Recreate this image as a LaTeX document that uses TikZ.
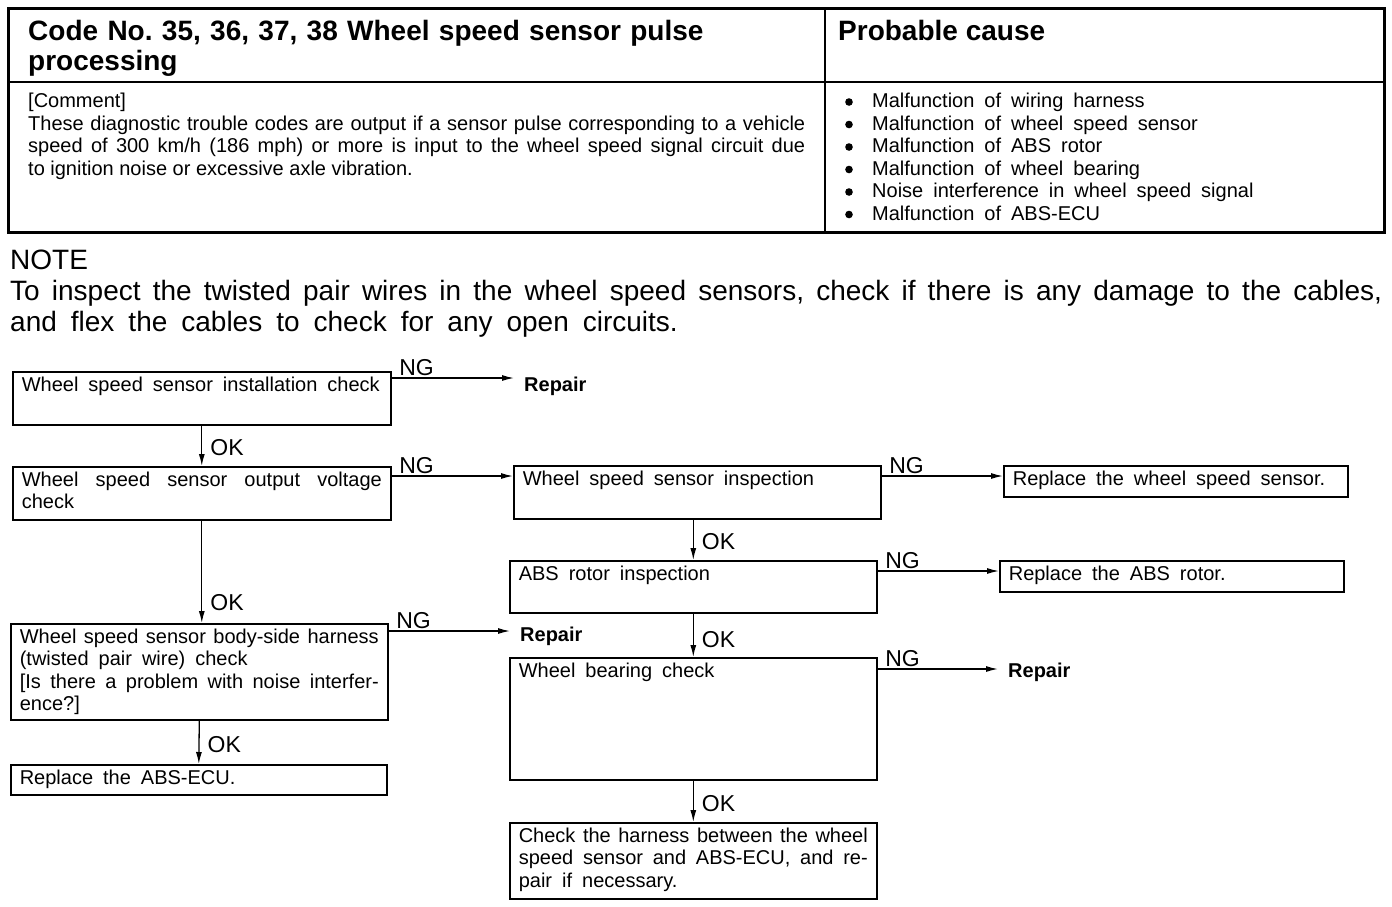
\documentclass[tikz,border=0pt]{standalone}
\usepackage{fontspec}
\setmainfont{Liberation Sans}
\usetikzlibrary{arrows.meta,positioning}

\newcommand{\flowfont}{\fontsize{20}{22.5}\selectfont\spaceskip=.5em plus .3em minus .3em\relax}
\newcommand{\boxtext}[3]{\parbox[t][#2][t]{#1}{\flowfont\hyphenpenalty=10000 #3}}

\begin{document}
\frenchspacing
\begin{tikzpicture}[x=1pt,y=-1pt,
  stepbox/.style={draw, line width=1.6pt, anchor=north west, inner xsep=9pt, inner ysep=5pt},
  flow/.style={line width=1.3pt, -{Latex[length=12pt,width=6pt]}},
  nglab/.style={anchor=south west, xshift=5pt, inner sep=2pt, font=\fontsize{23}{23}\selectfont},
  oklab/.style={right=7pt, inner sep=1pt, font=\fontsize{23}{23}\selectfont},
  repair/.style={anchor=west, inner xsep=10pt, font=\fontsize{20}{22}\selectfont\bfseries},
  txt/.style={anchor=north west, inner sep=0pt}]
\useasboundingbox (0,0) rectangle (1392,906);
%% Code table
\draw[line width=3pt] (8,8) rectangle (1384,232);
\draw[line width=2.5pt] (8,82) -- (1384,82);
\draw[line width=1.2pt] (825,8) -- (825,232);
\node[txt, text width=790, font=\fontsize{28}{30}\selectfont\bfseries] (title) at (28,20)
  {Code No. 35, 36, 37, 38 Wheel speed sensor pulse\\processing};
\node[txt, font=\fontsize{28}{30}\selectfont\bfseries] (cause) at (838,20) {Probable cause};
\node[txt, text width=777, align=justify, font=\fontsize{20}{22.5}\selectfont] (comment) at (28,93)
  {[Comment]\par These diagnostic trouble codes are output if a sensor pulse corresponding to a vehicle\linebreak
   speed of 300 km/h (186 mph) or more is input to the wheel speed signal circuit due\linebreak
   to ignition noise or excessive axle vibration.};
\node[txt, text width=500, align=left, font=\fontsize{20}{22.5}\selectfont] (causes) at (872,93)
  {\spaceskip=.5em plus .3em minus .3em\relax
   Malfunction of wiring harness\\
   Malfunction of wheel speed sensor\\
   Malfunction of ABS rotor\\
   Malfunction of wheel bearing\\
   Noise interference in wheel speed signal\\
   Malfunction of ABS-ECU};
\foreach \i in {0,...,5}
  \fill (849,102+22.5*\i) circle (3.8pt);
%% Note
\node[txt, text width=1372, align=justify, font=\fontsize{28}{31}\selectfont] (note) at (10,250)
  {\spaceskip=.5em plus .3em minus .25em\relax
   NOTE\par To inspect the twisted pair wires in the wheel speed sensors, check if there is any damage to the cables,\linebreak
   and flex the cables to check for any open circuits.};
%% Flow chart
\node[stepbox] (inst) at (12,371) {\boxtext{360pt}{43pt}{Wheel speed sensor installation check}};
\node[stepbox] (volt) at (12,466) {\boxtext{360pt}{43pt}{Wheel speed sensor output voltage\linebreak check}};
\node[stepbox] (sens) at (513,465) {\boxtext{349pt}{43pt}{Wheel speed sensor inspection}};
\node[stepbox] (newsens) at (1003,465) {\boxtext{326pt}{21pt}{Replace the wheel speed sensor.}};
\node[stepbox] (rotor) at (509,560) {\boxtext{349pt}{42pt}{ABS rotor inspection}};
\node[stepbox] (newrotor) at (999,560) {\boxtext{326pt}{21pt}{Replace the ABS rotor.}};
\node[stepbox] (harn) at (10,623) {\boxtext{359pt}{86pt}{Wheel speed sensor body-side harness\linebreak
  (twisted pair wire) check\par [Is there a problem with noise interfer-\linebreak ence?]}};
\node[stepbox] (ecu) at (10,764) {\boxtext{358pt}{20pt}{Replace the ABS-ECU.}};
\node[stepbox] (bear) at (509,657) {\boxtext{349pt}{112pt}{Wheel bearing check}};
\node[stepbox] (chk) at (509,822) {\boxtext{349pt}{66pt}{Check the harness between the wheel\linebreak
  speed sensor and ABS-ECU, and re-\linebreak pair if necessary.}};
\node[repair] (rep1) at (514,386) {Repair};
\node[repair] (rep2) at (510,636) {Repair};
\node[repair] (rep3) at (998,672) {Repair};
%% NG branches
\coordinate (n1) at ([yshift=-7pt]inst.north east);
\coordinate (n2) at ([yshift=-10pt]volt.north east);
\coordinate (n3) at ([yshift=-11pt]sens.north east);
\coordinate (n4) at ([yshift=-11pt]rotor.north east);
\coordinate (n5) at ([yshift=-8pt]harn.north east);
\coordinate (n6) at ([yshift=-12pt]bear.north east);
\draw[flow] (n1) node[nglab] {NG} -- (n1 -| rep1.west);
\draw[flow] (n2) node[nglab] {NG} -- (n2 -| sens.west);
\draw[flow] (n3) node[nglab] {NG} -- (n3 -| newsens.west);
\draw[flow] (n4) node[nglab] {NG} -- (n4 -| newrotor.west);
\draw[flow] (n5) node[nglab] {NG} -- (n5 -| rep2.west);
\draw[flow] (n6) node[nglab] {NG} -- (n6 -| rep3.west);
%% OK branches
\draw[flow] (inst.south) -- node[oklab, pos=.55] {OK} (volt.north);
\draw[flow] (volt.south) -- node[oklab, pos=.8] {OK} (volt.south |- harn.north);
\draw[flow] (harn.south) -- node[oklab, pos=.55] {OK} (ecu.north);
\draw[flow] (rotor.north |- sens.south) -- node[oklab, pos=.55] {OK} (rotor.north);
\draw[flow] (rotor.south) -- node[oklab, pos=.6] {OK} (bear.north);
\draw[flow] (bear.south) -- node[oklab, pos=.55] {OK} (chk.north);
\end{tikzpicture}
\end{document}
